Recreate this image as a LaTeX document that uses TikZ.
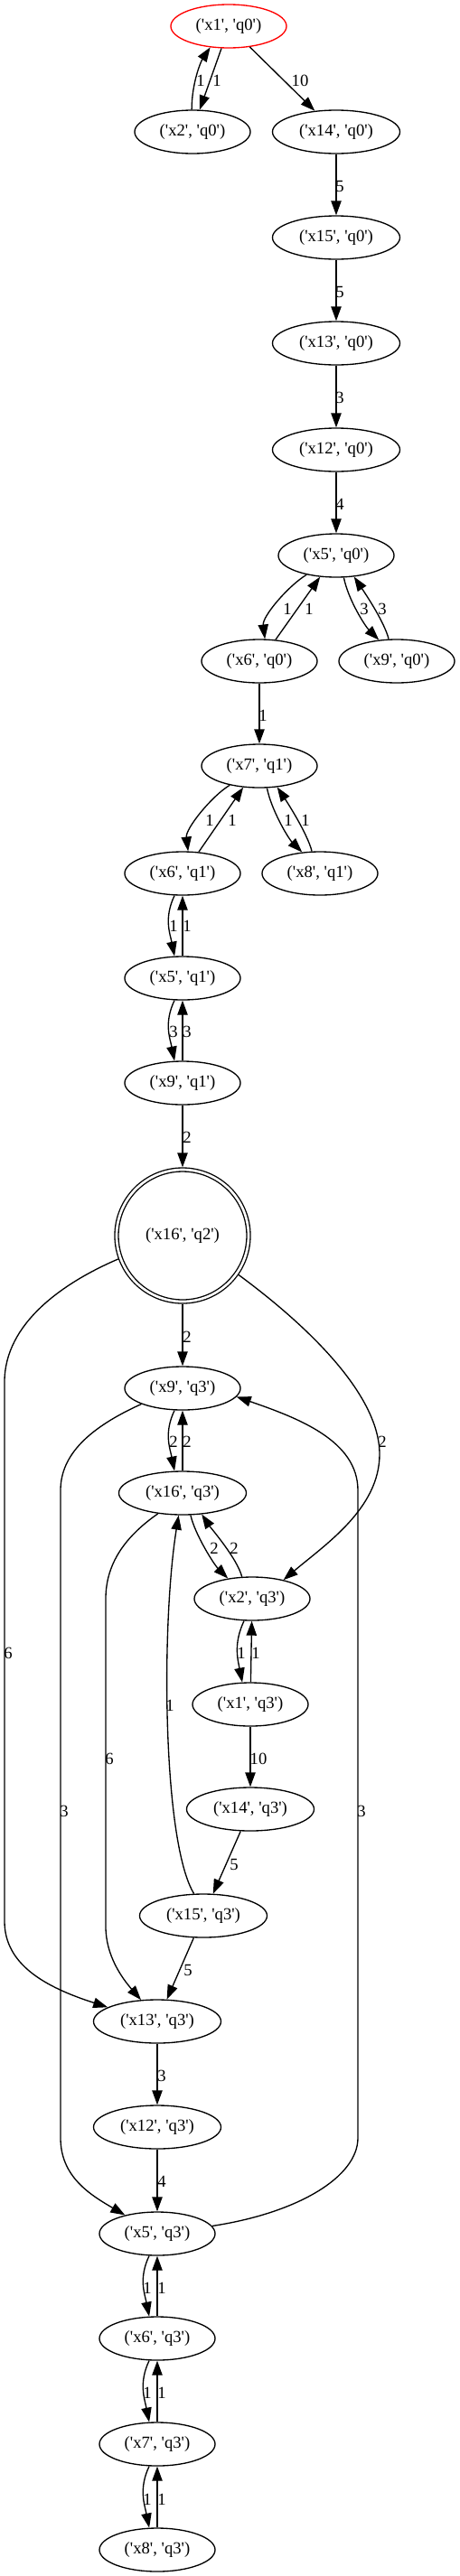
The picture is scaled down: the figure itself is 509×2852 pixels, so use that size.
\documentclass[tikz,border=0pt]{standalone}
\usepackage{fontspec}
\setmainfont{Liberation Serif}[Ligatures=TeXOff]
\usetikzlibrary{arrows.meta,shapes.geometric}
\begin{document}
\begin{tikzpicture}[
    x=0.75pt, y=-0.75pt,
    line width=1pt,
    >={Triangle[length=12pt,width=8.5pt]},
    st-node/.style = {draw, ellipse, minimum width=96pt, minimum height=36pt, inner sep=0pt, font=\fontsize{14}{16}\selectfont},
    st-wide/.style = {st-node, minimum width=105.75pt},
    st-start/.style = {st-node, draw=red},
    st-goal/.style = {draw, circle, double, double distance=2pt, minimum size=109.5pt, inner sep=0pt, outer sep=2pt, font=\fontsize{14}{16}\selectfont},
    w-lbl/.style = {inner sep=0pt, font=\fontsize{14}{16}\selectfont}
  ]
  \useasboundingbox (0,0) rectangle (509,2852);

  \node[st-start] (x1q0) at (253,29) {('x1', 'q0')};
  \node[st-node] (x2q0) at (213,146) {('x2', 'q0')};
  \node[st-wide] (x14q0) at (372,146) {('x14', 'q0')};
  \node[st-wide] (x15q0) at (372,263) {('x15', 'q0')};
  \node[st-wide] (x13q0) at (372,380) {('x13', 'q0')};
  \node[st-wide] (x12q0) at (372,498) {('x12', 'q0')};
  \node[st-node] (x5q0) at (372,615) {('x5', 'q0')};
  \node[st-node] (x6q0) at (287,732) {('x6', 'q0')};
  \node[st-node] (x9q0) at (439,732) {('x9', 'q0')};
  \node[st-node] (x7q1) at (287,848) {('x7', 'q1')};
  \node[st-node] (x6q1) at (202,967) {('x6', 'q1')};
  \node[st-node] (x8q1) at (354,967) {('x8', 'q1')};
  \node[st-node] (x5q1) at (202,1083) {('x5', 'q1')};
  \node[st-node] (x9q1) at (202,1199) {('x9', 'q1')};
  \node[st-goal] (x16q2) at (202,1368) {('x16', 'q2')};
  \node[st-node] (x9q3) at (202,1537) {('x9', 'q3')};
  \node[st-wide] (x16q3) at (202,1653) {('x16', 'q3')};
  \node[st-node] (x2q3) at (279,1770) {('x2', 'q3')};
  \node[st-node] (x1q3) at (277,1887) {('x1', 'q3')};
  \node[st-wide] (x14q3) at (277,2003) {('x14', 'q3')};
  \node[st-wide] (x15q3) at (225,2121) {('x15', 'q3')};
  \node[st-wide] (x13q3) at (174,2238) {('x13', 'q3')};
  \node[st-wide] (x12q3) at (174,2355) {('x12', 'q3')};
  \node[st-node] (x5q3) at (174,2473) {('x5', 'q3')};
  \node[st-node] (x6q3) at (174,2589) {('x6', 'q3')};
  \node[st-node] (x7q3) at (174,2706) {('x7', 'q3')};
  \node[st-node] (x8q3) at (174,2823) {('x8', 'q3')};

  % q0
  \draw[->] (x1q0.252) -- (x2q0.72) node[w-lbl] at (240,89) {1};
  \draw[->] (x2q0.92) .. controls +(0,-30) and +(-10,15) .. (x1q0.229) node[w-lbl] at (222,89) {1};
  \draw[->] (x1q0) -- (x14q0) node[w-lbl] at (332,89) {10};
  \draw[->] (x14q0) -- (x15q0) node[w-lbl] at (376,206) {5};
  \draw[->] (x15q0) -- (x13q0) node[w-lbl] at (376,323) {5};
  \draw[->] (x13q0) -- (x12q0) node[w-lbl] at (376,440) {3};
  \draw[->] (x12q0) -- (x5q0) node[w-lbl] at (376,558) {4};
  \draw[->] (x5q0.213) .. controls +(-20,12) and +(-3,-25) .. (x6q0.76) node[w-lbl] at (318,674) {1};
  \draw[->] (x6q0.53) -- (x5q0.233) node[w-lbl] at (342,674) {1};
  \draw[->] (x5q0.289) .. controls +(5,25) and +(-15,-15) .. (x9q0.130) node[w-lbl] at (403,674) {3};
  \draw[->] (x9q0.110) .. controls +(-5,-20) and +(10,15) .. (x5q0.310) node[w-lbl] at (423,674) {3};
  \draw[->] (x6q0) -- (x7q1) node[w-lbl] at (291,792) {1};

  % q1
  \draw[->] (x7q1.213) .. controls +(-20,12) and +(-3,-25) .. (x6q1.76) node[w-lbl] at (232,908) {1};
  \draw[->] (x6q1.53) -- (x7q1.233) node[w-lbl] at (257,908) {1};
  \draw[->] (x7q1.289) .. controls +(5,25) and +(-15,-15) .. (x8q1.130) node[w-lbl] at (319,908) {1};
  \draw[->] (x8q1.110) .. controls +(-5,-20) and +(10,15) .. (x7q1.310) node[w-lbl] at (338,908) {1};
  \draw[->] (x6q1.250) .. controls +(-12,25) and +(-5,-25) .. (x5q1.110) node[w-lbl] at (192,1025) {1};
  \draw[->] (x5q1) -- (x6q1) node[w-lbl] at (207,1025) {1};
  \draw[->] (x5q1.250) .. controls +(-12,25) and +(-5,-25) .. (x9q1.110) node[w-lbl] at (192,1142) {3};
  \draw[->] (x9q1) -- (x5q1) node[w-lbl] at (207,1142) {3};
  \draw[->] (x9q1) -- (x16q2) node[w-lbl] at (207,1259) {2};

  % q2 and q3
  \draw[->] (x16q2) -- (x9q3) node[w-lbl] at (207,1480) {2};
  \draw[->] (x16q2.200) .. controls (70,1420) and (5,1465) .. (5,1530) -- (5,2127)
    .. controls (5,2175) and (50,2200) .. (x13q3.164) node[w-lbl] at (9,1830) {6};
  \draw[->] (x16q2.325) .. controls (330,1460) and (420,1540) .. (420,1610)
    .. controls (420,1670) and (360,1710) .. (x2q3.31) node[w-lbl] at (423,1596) {2};
  \draw[->] (x9q3.250) .. controls +(-12,25) and +(-5,-25) .. (x16q3.110) node[w-lbl] at (192,1596) {2};
  \draw[->] (x16q3) -- (x9q3) node[w-lbl] at (207,1596) {2};
  \draw[->] (x9q3.201) .. controls (100,1580) and (67,1610) .. (67,1650) -- (67,2367)
    .. controls (67,2410) and (100,2430) .. (x5q3.150) node[w-lbl] at (71,2005) {3};
  \draw[->] (x5q3.8) .. controls (330,2450) and (396,2410) .. (396,2367) -- (396,1650)
    .. controls (396,1595) and (330,1570) .. (x9q3.351) node[w-lbl] at (400,2005) {3};
  \draw[->] (x16q3.290) .. controls +(5,22) and +(-15,-15) .. (x2q3.140) node[w-lbl] at (237,1714) {2};
  \draw[->] (x2q3.115) .. controls +(-5,-20) and +(10,15) .. (x16q3.312) node[w-lbl] at (259,1714) {2};
  \draw[->] (x16q3.220) .. controls (140,1700) and (117,1730) .. (117,1770) -- (117,2133)
    .. controls (117,2165) and (135,2190) .. (x13q3.127) node[w-lbl] at (121,1947) {6};
  \draw[->] (x2q3.250) .. controls +(-12,25) and +(-5,-25) .. (x1q3.110) node[w-lbl] at (267,1830) {1};
  \draw[->] (x1q3) -- (x2q3) node[w-lbl] at (283,1830) {1};
  \draw[->] (x1q3) -- (x14q3) node[w-lbl] at (286,1947) {10};
  \draw[->] (x14q3) -- (x15q3) node[w-lbl] at (259,2064) {5};
  \draw[->] (x15q3.113) .. controls (180,2040) and (178,1800) .. (x16q3.260) node[w-lbl] at (188,1888) {1};
  \draw[->] (x15q3) -- (x13q3) node[w-lbl] at (208,2181) {5};
  \draw[->] (x13q3) -- (x12q3) node[w-lbl] at (179,2298) {3};
  \draw[->] (x12q3) -- (x5q3) node[w-lbl] at (179,2415) {4};
  \draw[->] (x5q3.250) .. controls +(-12,25) and +(-5,-25) .. (x6q3.110) node[w-lbl] at (163,2533) {1};
  \draw[->] (x6q3) -- (x5q3) node[w-lbl] at (179,2533) {1};
  \draw[->] (x6q3.250) .. controls +(-12,25) and +(-5,-25) .. (x7q3.110) node[w-lbl] at (163,2649) {1};
  \draw[->] (x7q3) -- (x6q3) node[w-lbl] at (179,2649) {1};
  \draw[->] (x7q3.250) .. controls +(-12,25) and +(-5,-25) .. (x8q3.110) node[w-lbl] at (163,2767) {1};
  \draw[->] (x8q3) -- (x7q3) node[w-lbl] at (179,2767) {1};
\end{tikzpicture}
\end{document}
